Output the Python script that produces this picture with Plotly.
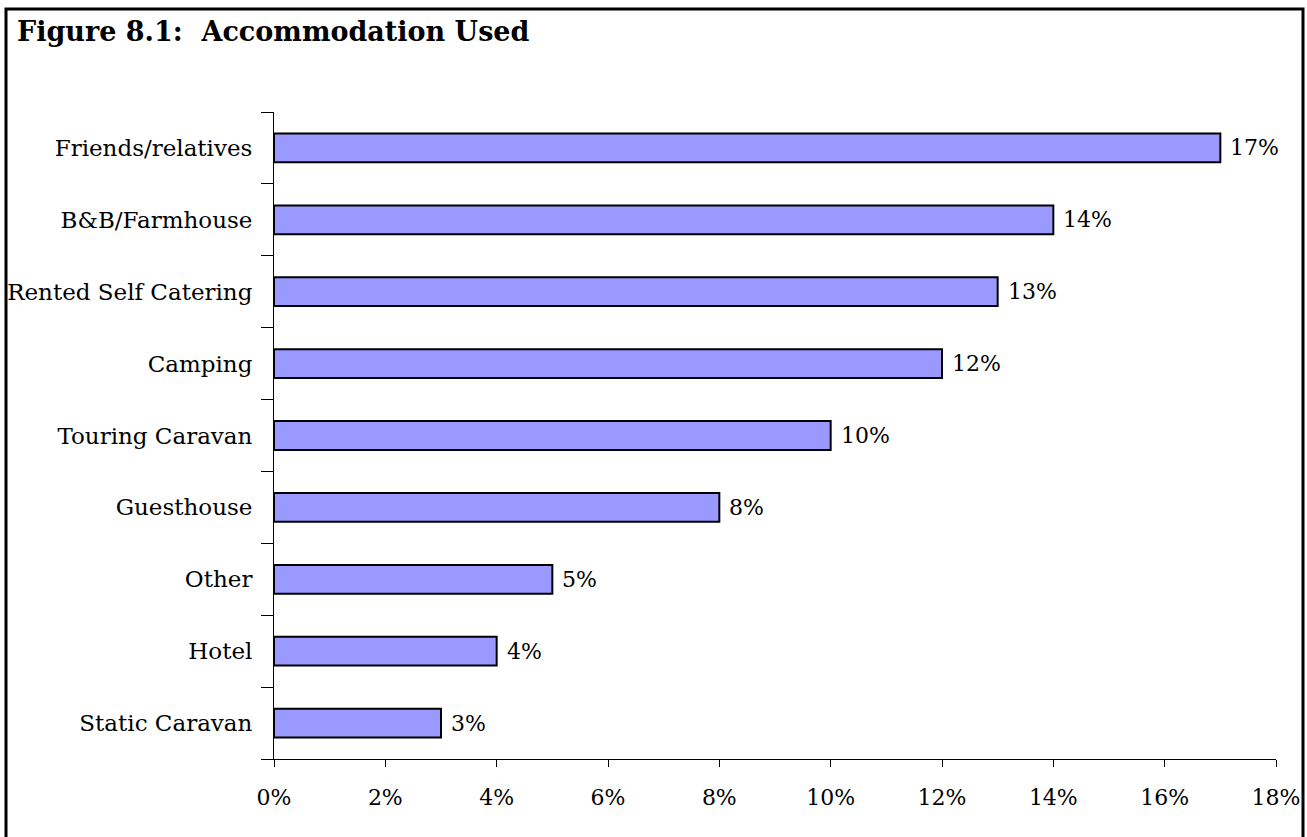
import plotly.graph_objects as go

# Accommodation types (bottom to top as drawn) and share of respondents (%)
categories = ["Static Caravan", "Hotel", "Other", "Guesthouse", "Touring Caravan",
              "Camping", "Rented Self Catering", "B&B/Farmhouse", "Friends/relatives"]
shares = [3, 4, 5, 8, 10, 12, 13, 14, 17]
x_ticks = [0, 2, 4, 6, 8, 10, 12, 14, 16, 18]
x_tick_labels = [f"{v}%" for v in x_ticks]

FONT = "DejaVu Serif"

fig = go.Figure(
    go.Bar(
        x=shares,
        y=categories,
        orientation="h",
        marker=dict(color="#9999FF", line=dict(color="black", width=2)),
        width=0.4,
        hoverinfo="skip",
    )
)

# value labels just right of each bar end
for cat, v in zip(categories, shares):
    fig.add_annotation(
        x=v, y=cat, text=f"{v}%",
        xanchor="left", yanchor="middle", xshift=8,
        showarrow=False,
        font=dict(family=FONT, size=22, color="black"),
    )

W, H = 1307, 837
L, R, T, B = 274, 31, 112, 78
pw, ph = W - L - R, H - T - B

def px_x(p):
    return (p - L) / pw

def px_y(p):
    return (H - B - p) / ph

fig.update_layout(
    width=W,
    height=H,
    margin=dict(l=L, r=R, t=T, b=B, autoexpand=False),
    paper_bgcolor="white",
    plot_bgcolor="white",
    showlegend=False,
    font=dict(family=FONT, size=22, color="black"),
    title=dict(
        text="<b>Figure 8.1:  Accommodation Used</b>",
        font=dict(family=FONT, size=27, color="black"),
        xref="container", yref="container",
        x=17 / W, xanchor="left",
        y=1 - 32 / H, yanchor="middle",
    ),
    xaxis=dict(
        range=[0, 18],
        tickvals=x_ticks,
        ticktext=x_tick_labels,
        showgrid=False,
        zeroline=False,
        showline=True,
        linecolor="black",
        linewidth=1,
        ticks="outside",
        ticklen=7,
        tickcolor="black",
        tickfont=dict(family=FONT, size=22, color="black"),
        ticklabelstandoff=12,
        automargin=False,
    ),
    yaxis=dict(
        range=[-0.5, 8.5],
        showgrid=False,
        zeroline=False,
        showline=True,
        linecolor="black",
        linewidth=1,
        ticks="outside",
        tickson="boundaries",
        ticklen=12,
        tickcolor="black",
        tickfont=dict(family=FONT, size=23, color="black"),
        ticklabelstandoff=16,
        automargin=False,
    ),
    bargap=0.6,
    shapes=[
        dict(
            type="rect",
            xref="paper", yref="paper",
            x0=px_x(6), x1=px_x(1303),
            y0=px_y(860), y1=px_y(9),
            line=dict(color="black", width=3),
            fillcolor="rgba(0,0,0,0)",
            layer="above",
        )
    ],
)

fig.write_html("out.html")
